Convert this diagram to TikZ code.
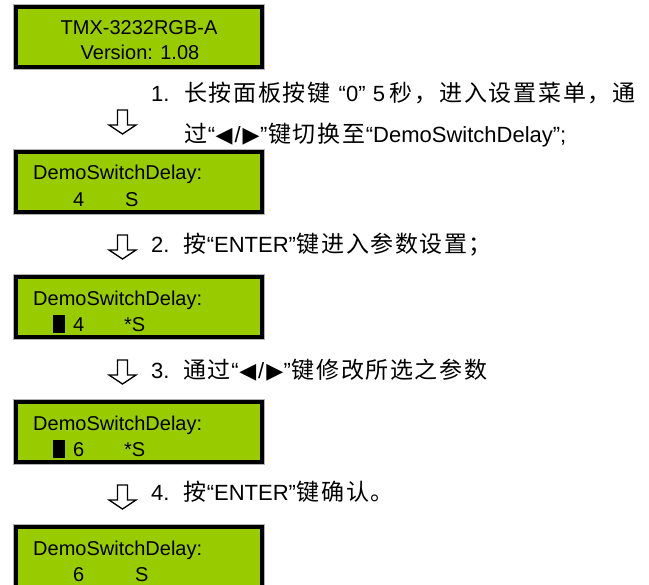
\documentclass[tikz,border=0pt]{standalone}
\usepackage{fontspec}
\setmainfont{Liberation Sans}
\newfontfamily\cjk{Noto Sans CJK SC}
\newfontfamily\symf{DejaVu Sans}
\definecolor{lcdgreen}{RGB}{153,204,0}
\tikzset{
  lcdbox/.style={draw=black, fill=lcdgreen, line width=4bp, minimum width=246bp, minimum height=60bp, inner sep=0pt, outer sep=0pt},
  lcdtxt/.style={inner sep=0pt, font=\fontsize{20bp}{24bp}\selectfont},
  steptxt/.style={inner sep=0pt, anchor=base west, font=\fontsize{22bp}{26bp}\selectfont},
  hollowarrow/.style={draw=black, fill=white, line width=1.3bp, line join=miter},
  cursor/.style={fill=black}
}
\makeatletter
\def\my@cjloop#1{\ifx#1\relax\else\makebox[24.6bp]{#1}\expandafter\my@cjloop\fi}
\newcommand{\cj}[1]{{\cjk\fontsize{23bp}{27bp}\selectfont\my@cjloop#1\relax}}
\makeatother
\newcommand{\mytri}{\makebox[18bp]{\symf\fontsize{22bp}{26bp}\selectfont\char"25C0}\makebox[9bp]{/}\makebox[18bp]{\symf\fontsize{22bp}{26bp}\selectfont\char"25B6}}
\newcommand{\gap}{\hspace{0pt plus 1fil}}
\newcommand{\downarrowat}[2]{%
  \draw[hollowarrow] (#1-5,#2) -- (#1+5,#2) -- (#1+5,#2+15) -- (#1+13.5,#2+15) -- (#1,#2+24) -- (#1-13.5,#2+15) -- (#1-5,#2+15) -- cycle;}
\begin{document}
\begin{tikzpicture}[x=1bp,y=-1bp]
\useasboundingbox (0,0) rectangle (649,585);
\fill[white] (0,0) rectangle (649,585);
% LCD boxes (top of black border at t: 5,150,275,400,525)
\foreach \t/\n in {5/b1,150/b2,275/b3,400/b4,525/b5}{
  \node[lcdbox] (\n) at (139,\t+32) {};
  \draw[gray!60, line width=1bp] ([xshift=-2.5bp,yshift=2.5bp]\n.north west) rectangle ([xshift=2.5bp,yshift=-2.5bp]\n.south east);
}
% box 1
\node[lcdtxt, anchor=base] (b1l1) at (139,35) {TMX-3232RGB-A};
\node[lcdtxt, anchor=base] (b1l2) at (140,60) {Version: 1.08};
% box 2
\node[lcdtxt, anchor=base west] (b2l1) at (33,180) {DemoSwitchDelay:};
\node[lcdtxt, anchor=base west] (b2v) at (73,206) {4};
\node[lcdtxt, anchor=base west] (b2u) at (125,206) {S};
% box 3
\node[lcdtxt, anchor=base west] (b3l1) at (33,305) {DemoSwitchDelay:};
\fill[cursor] (53,315) rectangle (65,333);
\node[lcdtxt, anchor=base west] (b3v) at (73,331) {4};
\node[lcdtxt, anchor=base west] (b3u) at (124,331) {*S};
% box 4
\node[lcdtxt, anchor=base west] (b4l1) at (33,430) {DemoSwitchDelay:};
\fill[cursor] (53,440) rectangle (65,458);
\node[lcdtxt, anchor=base west] (b4v) at (73,456) {6};
\node[lcdtxt, anchor=base west] (b4u) at (124,456) {*S};
% box 5
\node[lcdtxt, anchor=base west] (b5l1) at (33,555) {DemoSwitchDelay:};
\node[lcdtxt, anchor=base west] (b5v) at (73,581) {6};
\node[lcdtxt, anchor=base west] (b5u) at (135,581) {S};
% arrows
\downarrowat{122.5}{110}
\downarrowat{122.5}{235}
\downarrowat{122.5}{360}
\downarrowat{122.5}{485}
% step 1
\node[steptxt] (n1) at (151,102) {1.};
\node[steptxt] (s1a) at (183,102) {\makebox[453bp][s]{\cj{长}\gap\cj{按}\gap\cj{面}\gap\cj{板}\gap\cj{按}\gap\cj{键}\gap\hspace{7bp}“0”\hspace{7bp}\gap 5\hspace{4bp}\gap\cj{秒，}\gap\cj{进}\gap\cj{入}\gap\cj{设}\gap\cj{置}\gap\cj{菜}\gap\cj{单，}\gap\cj{通}}};
\node[steptxt] (s1b) at (183,143) {\cj{过}“\mytri”\cj{键切换至}“DemoSwitchDelay”;};
% step 2
\node[steptxt] (n2) at (151,252) {2.};
\node[steptxt] (s2) at (182,252) {\cj{按}“ENTER”\cj{键进入参数设置；}};
% step 3
\node[steptxt] (n3) at (151,378) {3.};
\node[steptxt] (s3) at (182,378) {\cj{通过}“\mytri”\cj{键修改所选之参数}};
% step 4
\node[steptxt] (n4) at (151,500) {4.};
\node[steptxt] (s4) at (182,500) {\cj{按}“ENTER”\cj{键确认。}};
\end{tikzpicture}
\end{document}
